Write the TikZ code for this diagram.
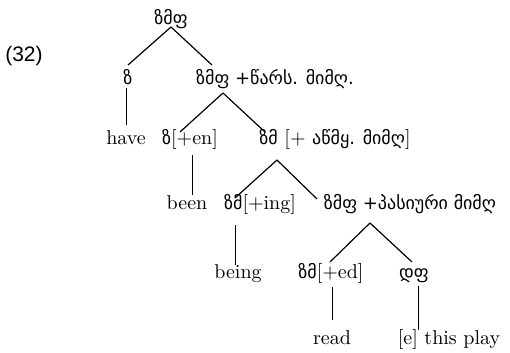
\documentclass[tikz,border=0pt]{standalone}
\usepackage{fontspec}
\newfontfamily\geo{DejaVu Sans}[Scale=0.9]
\newfontfamily\numfont{Liberation Sans}
\usetikzlibrary{calc}
\begin{document}
\begin{tikzpicture}[x=0.5pt,y=-0.5pt,
  lbl/.style={anchor=base,inner sep=0pt,font=\fontsize{10pt}{12pt}\selectfont},
  edge/.style={line width=0.6pt}]
\useasboundingbox (0,0) rectangle (510,353);
% labels
\node[lbl,font=\numfont\fontsize{10.5pt}{12pt}\selectfont] (ex) at (24,62) {(32)};
\node[lbl] (r) at (171,25) {\geo ზმფ};
\node[lbl] (z) at (128,85) {\geo ზ};
\node[lbl] (vp1) at (275,85) {\geo ზმფ +წარს. მიმღ.};
\node[lbl] (have) at (126,145) {have};
\node[lbl] (en) at (190,145) {{\geo ზ}[+en]};
\node[lbl] (zm1) at (335,145) {{\geo ზმ} [+ {\geo აწმყ. მიმღ}]};
\node[lbl] (been) at (187,210) {been};
\node[lbl] (ing) at (260,210) {{\geo ზმ}[+ing]};
\node[lbl] (vp2) at (410,210) {\geo ზმფ +პასიური მიმღ};
\node[lbl] (being) at (238,279) {being};
\node[lbl] (ed) at (331,279) {{\geo ზმ}[+ed]};
\node[lbl] (df) at (414,279) {\geo დფ};
\node[lbl] (read) at (332,345) {read};
\node[lbl] (play) at (449,345) {[e] this play};
% connectors
\draw[edge] ($(r.base)+(0,2)$) -- ($(z.base)+(0,-20)$);
\draw[edge] ($(r.base)+(0,2)$) -- ($(vp1.base)+(-63,-20)$);
\draw[edge] ($(z.base)+(-1.5,3)$) -- ($(have.base)+(0.5,-20)$);
\draw[edge] ($(vp1.base)+(-52,8)$) -- ($(en.base)+(-10,-13)$);
\draw[edge] ($(vp1.base)+(-52,8)$) -- ($(zm1.base)+(-70,-13)$);
\draw[edge] ($(en.base)+(2.5,10)$) -- ($(been.base)+(5.5,-15)$);
\draw[edge] ($(zm1.base)+(-58,15)$) -- ($(ing.base)+(-25,-12)$);
\draw[edge] ($(zm1.base)+(-58,15)$) -- ($(vp2.base)+(-93,-11)$);
\draw[edge] ($(ing.base)+(-24.5,15)$) -- ($(being.base)+(-2.5,-14)$);
\draw[edge] ($(vp2.base)+(-40,13)$) -- ($(ed.base)+(-1,-17)$);
\draw[edge] ($(vp2.base)+(-40,13)$) -- ($(df.base)+(-2,-17)$);
\draw[edge] ($(ed.base)+(1.5,8)$) -- ($(read.base)+(0.5,-25)$);
\draw[edge] ($(df.base)+(4.5,7)$) -- ($(play.base)+(-30.5,-15)$);
\end{tikzpicture}
\end{document}
